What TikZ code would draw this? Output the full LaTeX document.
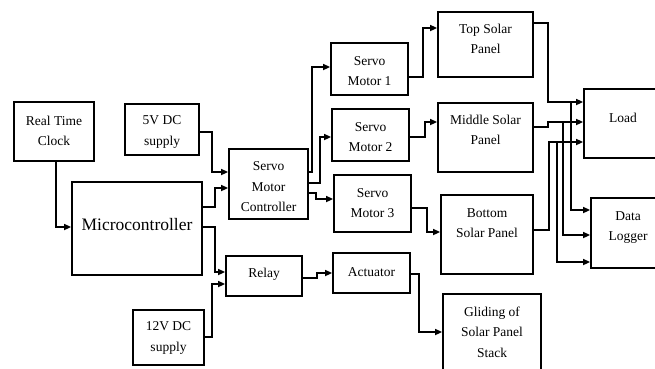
\documentclass[tikz,border=0pt]{standalone}
\usepackage{fontspec}
\setmainfont{Liberation Serif}
\usetikzlibrary{arrows.meta}
\begin{document}
\begin{tikzpicture}[x=1pt,y=-1pt,
  box/.style={draw, line width=1.8pt, rectangle, inner sep=0pt},
  lbl/.style={align=center, inner sep=0pt, font=\fontsize{13.5}{20.5}\selectfont},
  arr/.style={line width=1.6pt, -{Triangle[length=7pt,width=6pt]}},
  ]
\useasboundingbox (0,0) rectangle (655,368);
\clip (0,0) rectangle (655,368);
\fill[white] (0,0) rectangle (655,368);
% boxes
\node[box, minimum width=80pt, minimum height=59pt] (rtc)   at (54,131.5) {};
\node[box, minimum width=74pt, minimum height=51pt] (v5)    at (162,129.5) {};
\node[box, minimum width=130pt, minimum height=93pt] (mc)   at (137,228.5) {};
\node[box, minimum width=79pt, minimum height=70pt] (smc)   at (268.5,184) {};
\node[box, minimum width=76pt, minimum height=40pt] (relay) at (264,276) {};
\node[box, minimum width=71pt, minimum height=55pt] (v12)   at (168.5,337.5) {};
\node[box, minimum width=77pt, minimum height=52pt] (sm1)   at (369.5,69) {};
\node[box, minimum width=77pt, minimum height=52pt] (sm2)   at (370.5,135) {};
\node[box, minimum width=77pt, minimum height=57pt] (sm3)   at (372.5,203.5) {};
\node[box, minimum width=77pt, minimum height=40pt] (act)   at (371.5,273) {};
\node[box, minimum width=95pt, minimum height=65pt] (tsp)   at (485.5,44.5) {};
\node[box, minimum width=95pt, minimum height=69pt] (msp)   at (485.5,137.5) {};
\node[box, minimum width=92pt, minimum height=79pt] (bsp)   at (487,234.5) {};
\node[box, minimum width=98pt, minimum height=81pt] (glide) at (492,334.5) {};
\node[box, minimum width=81pt, minimum height=69pt] (load)  at (624.5,123.5) {};
\node[box, minimum width=77pt, minimum height=70pt] (dl)    at (629.5,233) {};
% texts
\node[lbl] (trtc) at (54,131) {Real Time\\Clock};
\node[lbl] (tv5) at (162,132) {5V DC\\supply};
\node[lbl, font=\fontsize{17.5}{21}\selectfont] (tmc) at (137,225) {Microcontroller};
\node[lbl] (tsmc) at (268.5,187) {Servo\\Motor\\Controller};
\node[lbl] (trelay) at (264,274) {Relay};
\node[lbl] (tv12) at (168.5,338) {12V DC\\supply};
\node[lbl] (tsm1) at (369.5,71) {Servo\\Motor 1};
\node[lbl] (tsm2) at (370.5,137) {Servo\\Motor 2};
\node[lbl] (tsm3) at (372.5,203) {Servo\\Motor 3};
\node[lbl] (tact) at (371.5,272) {Actuator};
\node[lbl] (ttsp) at (485.5,39) {Top Solar\\Panel};
\node[lbl] (tmsp) at (485.5,130) {Middle Solar\\Panel};
\node[lbl] (tbsp) at (487,223) {Bottom\\Solar Panel};
\node[lbl] (tglide) at (492,332) {Gliding of\\Solar Panel\\Stack};
\node[lbl] (tload) at (623,118) {Load};
\node[lbl] (tdl) at (628,227.5) {Data\\Logger};
% connectors
\draw[arr] (rtc.south -| 56,0) |- (mc.west |- 0,227);
\draw[arr] (v5.east |- 0,132) -| (212,172) -- (smc.west |- 0,172);
\draw[arr] (mc.east |- 0,207) -| (215,188) -- (smc.west |- 0,188);
\draw[arr] (mc.east |- 0,227) -| (215,272) -- (relay.west |- 0,272);
\draw[arr] (v12.east |- 0,337) -| (212,284) -- (relay.west |- 0,284);
\draw[arr] (relay.east |- 0,278) -| (317,273) -- (act.west |- 0,273);
\draw[arr] (smc.east |- 0,172) -| (312,67) -- (sm1.west |- 0,67);
\draw[arr] (smc.east |- 0,183) -| (320,137) -- (sm2.west |- 0,137);
\draw[arr] (smc.east |- 0,193) -| (316,199) -- (sm3.west |- 0,199);
\draw[arr] (sm1.east |- 0,77) -| (423,28) -- (tsp.west |- 0,28);
\draw[arr] (sm2.east |- 0,137) -| (425,122) -- (msp.west |- 0,122);
\draw[arr] (sm3.east |- 0,208) -| (427,232) -- (bsp.west |- 0,232);
\draw[arr] (act.east |- 0,274) -| (419,332) -- (glide.west |- 0,332);
\draw[arr] (tsp.east |- 0,23) -| (548,102) -- (load.west |- 0,102);
\draw[arr] (msp.east |- 0,127) -| (548,122) -- (load.west |- 0,122);
\draw[arr] (bsp.east |- 0,230) -| (549,142) -- (load.west |- 0,142);
\coordinate (j1) at (571,102);
\coordinate (j2) at (563,122);
\coordinate (j3) at (557,142);
\draw[arr] (j1) |- (dl.west |- 0,210);
\draw[arr] (j2) |- (dl.west |- 0,235);
\draw[arr] (j3) |- (dl.west |- 0,262);
\end{tikzpicture}
\end{document}
